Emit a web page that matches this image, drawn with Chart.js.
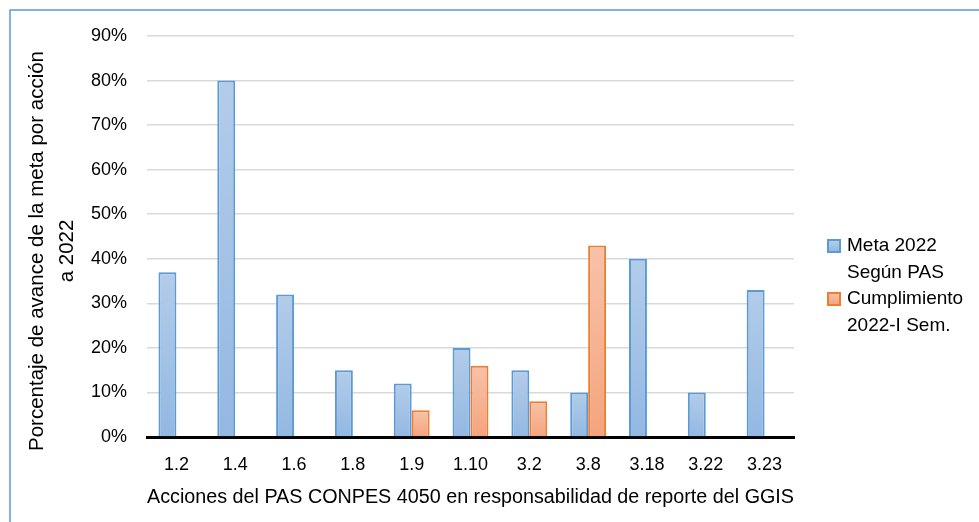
<!DOCTYPE html>
<html>
<head>
<meta charset="utf-8">
<script src="https://cdn.jsdelivr.net/npm/chart.js@4/dist/chart.umd.min.js"></script>
<style>
    html, body { margin: 0; padding: 0; background: #fff; }
    #wrap { position: relative; width: 979px; height: 522px; }
    #legend {
        position: absolute; left: 827px; top: 232px; width: 140px;
        font-family: "Liberation Sans", Arial, sans-serif; font-size: 19px;
        line-height: 26.5px; color: #000;
    }
    .item { display: flex; align-items: flex-start; }
    .box { width: 10px; height: 10px; margin-top: 7px; margin-right: 6px; flex: none; border: 2px solid; }
</style>
</head>
<body>
<div id="wrap">
    <canvas id="myChart" width="979" height="522"></canvas>
    <div id="legend"></div>
</div>
<script>
var categories = ['1.2', '1.4', '1.6', '1.8', '1.9', '1.10', '3.2', '3.8', '3.18', '3.22', '3.23'];
var meta2022 = [0.37, 0.80, 0.32, 0.15, 0.12, 0.20, 0.15, 0.10, 0.40, 0.10, 0.33];
var cumplimiento = [0, 0, 0, 0, 0.06, 0.16, 0.08, 0.43, 0, 0, 0];
var seriesNames = ['Meta 2022 Según PAS', 'Cumplimiento 2022-I Sem.'];
var yTicks = [0, 0.1, 0.2, 0.3, 0.4, 0.5, 0.6, 0.7, 0.8, 0.9];
var yTitle = ['Porcentaje de avance de la meta por acción', 'a 2022'];
var xTitle = 'Acciones del PAS CONPES 4050 en responsabilidad de reporte del GGIS';

var FONT = '"Liberation Sans", Arial, sans-serif';

// gradient per bar, lighter at top
function barGradient(top, bottom) {
    return function (context) {
        var chart = context.chart;
        var y = chart.scales.y;
        if (!y || context.raw == null) return bottom;
        var y0 = y.getPixelForValue(0);
        var y1 = y.getPixelForValue(context.raw);
        if (!isFinite(y0) || !isFinite(y1) || y0 === y1) return bottom;
        var g = chart.ctx.createLinearGradient(0, y1, 0, y0);
        g.addColorStop(0, top);
        g.addColorStop(1, bottom);
        return g;
    };
}

// white background + blue frame (top and left edges)
var framePlugin = {
    id: 'frame',
    beforeDraw: function (chart) {
        var c = chart.ctx;
        c.save();
        c.fillStyle = '#fff';
        c.fillRect(0, 0, chart.width, chart.height);
        c.strokeStyle = '#5b9bd5';
        c.lineWidth = 1.5;
        c.beginPath();
        c.moveTo(10, chart.height);
        c.lineTo(10, 10);
        c.lineTo(chart.width, 10);
        c.stroke();
        c.restore();
    }
};

// y title drawn by hand, so it can sit a bit lower than the axis middle
var yTitlePlugin = {
    id: 'yTitle',
    afterDraw: function (chart) {
        var c = chart.ctx;
        c.save();
        c.fillStyle = '#000';
        c.font = '20.5px ' + FONT;
        c.textAlign = 'center';
        c.textBaseline = 'middle';
        c.translate(37, 251);
        c.rotate(-Math.PI / 2);
        yTitle.forEach(function (line, i) {
            c.fillText(line, 0, i * 30);
        });
        c.restore();
    }
};

var ctx = document.getElementById('myChart').getContext('2d');
var chart = new Chart(ctx, {
    type: 'bar',
    data: {
        labels: categories,
        datasets: [{
            label: seriesNames[0],
            data: meta2022,
            backgroundColor: barGradient('#b3cce9', '#93b8e2'),
            borderColor: '#5b9bd5',
            borderWidth: 2,
            borderSkipped: 'bottom'
        }, {
            label: seriesNames[1],
            data: cumplimiento,
            backgroundColor: barGradient('#f7c2a9', '#f4a47d'),
            borderColor: '#ed7d31',
            borderWidth: 2,
            borderSkipped: 'bottom'
        }]
    },
    options: {
        responsive: false,
        animation: false,
        categoryPercentage: 0.61,
        barPercentage: 1.0,
        layout: { padding: { top: 36, right: 185, left: 0, bottom: 0 } },
        plugins: {
            legend: { display: false },
            tooltip: { enabled: false }
        },
        scales: {
            x: {
                grid: { display: false, drawTicks: false },
                border: { display: true, color: '#000', width: 3 },
                ticks: { color: '#000', padding: 17, font: { family: FONT, size: 18 } },
                title: {
                    display: true,
                    text: xTitle,
                    color: '#000',
                    font: { family: FONT, size: 20 },
                    padding: { top: 0, bottom: 13 }
                },
                afterFit: function (scale) { scale.height = 85; }
            },
            y: {
                min: 0,
                max: 0.9,
                afterBuildTicks: function (scale) {
                    scale.ticks = yTicks.map(function (v) { return { value: v }; });
                },
                grid: { color: '#d9d9d9', lineWidth: 1.5, drawTicks: false },
                border: { display: false },
                ticks: {
                    color: '#000',
                    padding: 20,
                    font: { family: FONT, size: 18 },
                    callback: function (v) { return Math.round(v * 100) + '%'; }
                },
                afterFit: function (scale) { scale.width = 147; }
            }
        }
    },
    plugins: [framePlugin, yTitlePlugin]
});

// HTML legend from the dataset names
var legendColors = [['#5b9bd5', 'linear-gradient(#b3cce9,#93b8e2)'], ['#ed7d31', 'linear-gradient(#f7c2a9,#f4a47d)']];
var legend = document.getElementById('legend');
seriesNames.forEach(function (name, i) {
    var item = document.createElement('div');
    item.className = 'item';
    var box = document.createElement('span');
    box.className = 'box';
    box.style.borderColor = legendColors[i][0];
    box.style.background = legendColors[i][1];
    var txt = document.createElement('span');
    txt.textContent = name;
    item.appendChild(box);
    item.appendChild(txt);
    legend.appendChild(item);
});
</script>
</body>
</html>
